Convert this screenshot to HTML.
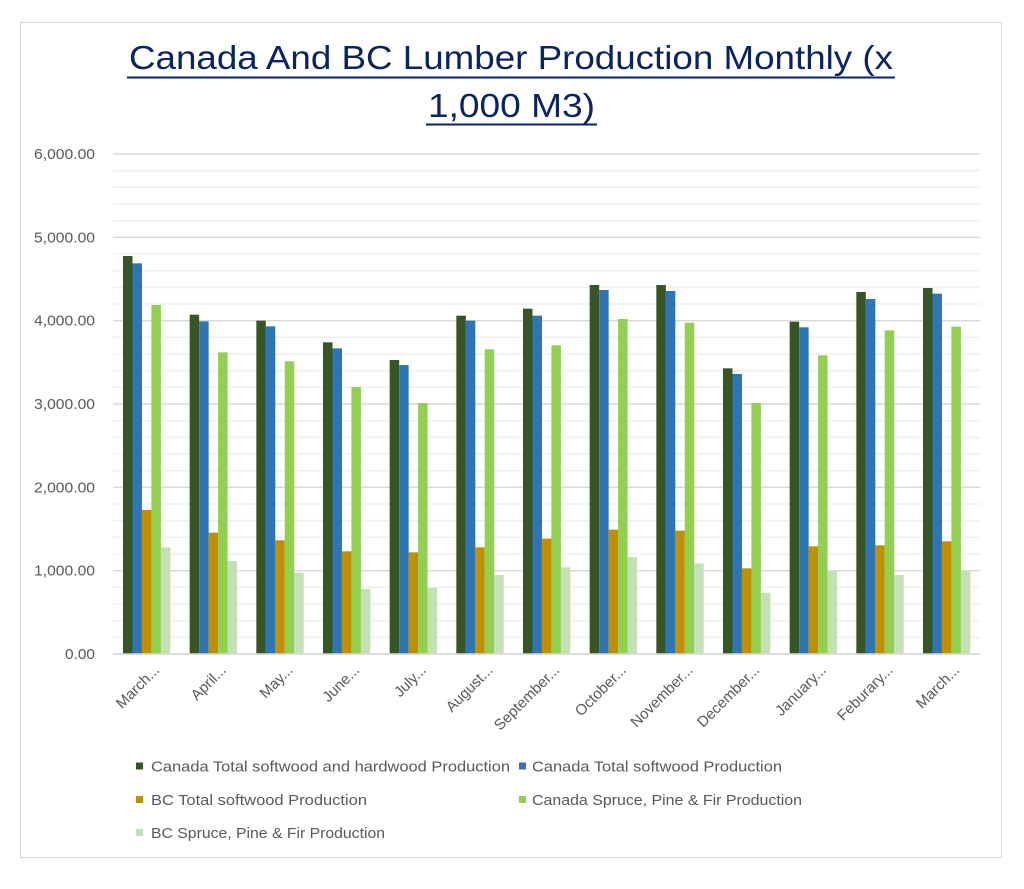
<!DOCTYPE html>
<html>
<head>
<meta charset="utf-8">
<style>
html,body{margin:0;padding:0;background:#fff;}
svg{display:block;}
text{font-family:"Liberation Sans",Arial,sans-serif;}
</style>
</head>
<body>
<svg width="1024" height="889" viewBox="0 0 1024 889" xmlns="http://www.w3.org/2000/svg">
<rect x="0" y="0" width="1024" height="889" fill="#fff"/>
<rect x="20.5" y="22.5" width="981" height="835" fill="#fff" stroke="#d9d9d9" stroke-width="1"/>

<!-- Title -->
<text x="129" y="69" font-size="33.5" fill="#0a2463" textLength="764" lengthAdjust="spacingAndGlyphs">Canada And BC Lumber Production Monthly (x</text>
<rect x="127" y="76.5" width="768" height="2" fill="#0a2463"/>
<text x="428" y="117" font-size="33.5" fill="#0a2463" textLength="167" lengthAdjust="spacingAndGlyphs">1,000 M3)</text>
<rect x="426" y="123.5" width="171" height="2" fill="#0a2463"/>

<!-- Minor gridlines -->
<g stroke="#f0f0f0" stroke-width="1.6">
<line x1="113" x2="980" y1="637.33" y2="637.33"/>
<line x1="113" x2="980" y1="620.67" y2="620.67"/>
<line x1="113" x2="980" y1="604" y2="604"/>
<line x1="113" x2="980" y1="587.33" y2="587.33"/>
<line x1="113" x2="980" y1="554" y2="554"/>
<line x1="113" x2="980" y1="537.33" y2="537.33"/>
<line x1="113" x2="980" y1="520.67" y2="520.67"/>
<line x1="113" x2="980" y1="504" y2="504"/>
<line x1="113" x2="980" y1="470.67" y2="470.67"/>
<line x1="113" x2="980" y1="454" y2="454"/>
<line x1="113" x2="980" y1="437.33" y2="437.33"/>
<line x1="113" x2="980" y1="420.67" y2="420.67"/>
<line x1="113" x2="980" y1="387.33" y2="387.33"/>
<line x1="113" x2="980" y1="370.67" y2="370.67"/>
<line x1="113" x2="980" y1="354" y2="354"/>
<line x1="113" x2="980" y1="337.33" y2="337.33"/>
<line x1="113" x2="980" y1="304" y2="304"/>
<line x1="113" x2="980" y1="287.33" y2="287.33"/>
<line x1="113" x2="980" y1="270.67" y2="270.67"/>
<line x1="113" x2="980" y1="254" y2="254"/>
<line x1="113" x2="980" y1="220.67" y2="220.67"/>
<line x1="113" x2="980" y1="204" y2="204"/>
<line x1="113" x2="980" y1="187.33" y2="187.33"/>
<line x1="113" x2="980" y1="170.67" y2="170.67"/>
</g>
<!-- Major gridlines -->
<g stroke="#d9d9d9" stroke-width="1.4">
<line x1="113" x2="980" y1="154" y2="154"/>
<line x1="113" x2="980" y1="237.33" y2="237.33"/>
<line x1="113" x2="980" y1="320.67" y2="320.67"/>
<line x1="113" x2="980" y1="404" y2="404"/>
<line x1="113" x2="980" y1="487.33" y2="487.33"/>
<line x1="113" x2="980" y1="570.67" y2="570.67"/>
<line x1="113" x2="980" y1="654" y2="654"/>
</g>

<!-- Y labels -->
<g font-size="15" fill="#595959" text-anchor="end">
<text x="95" y="159" textLength="61" lengthAdjust="spacingAndGlyphs">6,000.00</text>
<text x="95" y="242.33" textLength="61" lengthAdjust="spacingAndGlyphs">5,000.00</text>
<text x="95" y="325.67" textLength="61" lengthAdjust="spacingAndGlyphs">4,000.00</text>
<text x="95" y="409" textLength="61" lengthAdjust="spacingAndGlyphs">3,000.00</text>
<text x="95" y="492.33" textLength="61" lengthAdjust="spacingAndGlyphs">2,000.00</text>
<text x="95" y="575.67" textLength="61" lengthAdjust="spacingAndGlyphs">1,000.00</text>
<text x="95" y="659" textLength="30" lengthAdjust="spacingAndGlyphs">0.00</text>
</g>

<!-- Bars: dark green -->
<g fill="#375623">
<rect x="123" y="256" width="9.5" height="398"/>
<rect x="189.67" y="314.67" width="9.5" height="339.33"/>
<rect x="256.33" y="320.67" width="9.5" height="333.33"/>
<rect x="323" y="342.33" width="9.5" height="311.67"/>
<rect x="389.67" y="360" width="9.5" height="294"/>
<rect x="456.33" y="315.67" width="9.5" height="338.33"/>
<rect x="523" y="308.67" width="9.5" height="345.33"/>
<rect x="589.67" y="285" width="9.5" height="369"/>
<rect x="656.33" y="285" width="9.5" height="369"/>
<rect x="723" y="368.33" width="9.5" height="285.67"/>
<rect x="789.67" y="321.67" width="9.5" height="332.33"/>
<rect x="856.33" y="292" width="9.5" height="362"/>
<rect x="923" y="288" width="9.5" height="366"/>
</g>
<!-- Blue -->
<g fill="#2e75b6">
<rect x="132.47" y="263.33" width="9.5" height="390.67"/>
<rect x="199.14" y="321.33" width="9.5" height="332.67"/>
<rect x="265.8" y="326.33" width="9.5" height="327.67"/>
<rect x="332.47" y="348.33" width="9.5" height="305.67"/>
<rect x="399.14" y="365" width="9.5" height="289"/>
<rect x="465.8" y="320.67" width="9.5" height="333.33"/>
<rect x="532.47" y="315.67" width="9.5" height="338.33"/>
<rect x="599.14" y="290" width="9.5" height="364"/>
<rect x="665.8" y="291" width="9.5" height="363"/>
<rect x="732.47" y="374" width="9.5" height="280"/>
<rect x="799.14" y="327.33" width="9.5" height="326.67"/>
<rect x="865.8" y="299" width="9.5" height="355"/>
<rect x="932.47" y="293.67" width="9.5" height="360.33"/>
</g>
<!-- Gold -->
<g fill="#bf8f00">
<rect x="141.94" y="510" width="9.5" height="144"/>
<rect x="208.61" y="532.67" width="9.5" height="121.33"/>
<rect x="275.27" y="540.33" width="9.5" height="113.67"/>
<rect x="341.94" y="551.33" width="9.5" height="102.67"/>
<rect x="408.61" y="552.33" width="9.5" height="101.67"/>
<rect x="475.27" y="547.33" width="9.5" height="106.67"/>
<rect x="541.94" y="538.67" width="9.5" height="115.33"/>
<rect x="608.61" y="529.67" width="9.5" height="124.33"/>
<rect x="675.27" y="530.67" width="9.5" height="123.33"/>
<rect x="741.94" y="568.33" width="9.5" height="85.67"/>
<rect x="808.61" y="546.33" width="9.5" height="107.67"/>
<rect x="875.27" y="545.33" width="9.5" height="108.67"/>
<rect x="941.94" y="541.33" width="9.5" height="112.67"/>
</g>
<!-- Light green -->
<g fill="#92d050">
<rect x="151.41" y="305" width="9.5" height="349"/>
<rect x="218.08" y="352.33" width="9.5" height="301.67"/>
<rect x="284.74" y="361.33" width="9.5" height="292.67"/>
<rect x="351.41" y="387" width="9.5" height="267"/>
<rect x="418.08" y="403" width="9.5" height="251"/>
<rect x="484.74" y="349.33" width="9.5" height="304.67"/>
<rect x="551.41" y="345.33" width="9.5" height="308.67"/>
<rect x="618.08" y="319" width="9.5" height="335"/>
<rect x="684.74" y="322.67" width="9.5" height="331.33"/>
<rect x="751.41" y="403" width="9.5" height="251"/>
<rect x="818.08" y="355.33" width="9.5" height="298.67"/>
<rect x="884.74" y="330.33" width="9.5" height="323.67"/>
<rect x="951.41" y="326.67" width="9.5" height="327.33"/>
</g>
<!-- Pale green -->
<g fill="#c5e0b4">
<rect x="160.88" y="547.33" width="9.5" height="106.67"/>
<rect x="227.55" y="561" width="9.5" height="93"/>
<rect x="294.21" y="572.67" width="9.5" height="81.33"/>
<rect x="360.88" y="589" width="9.5" height="65"/>
<rect x="427.55" y="587.67" width="9.5" height="66.33"/>
<rect x="494.21" y="575" width="9.5" height="79"/>
<rect x="560.88" y="567.33" width="9.5" height="86.67"/>
<rect x="627.55" y="557" width="9.5" height="97"/>
<rect x="694.21" y="563.33" width="9.5" height="90.67"/>
<rect x="760.88" y="592.67" width="9.5" height="61.33"/>
<rect x="827.55" y="571.33" width="9.5" height="82.67"/>
<rect x="894.21" y="575" width="9.5" height="79"/>
<rect x="960.88" y="571.33" width="9.5" height="82.67"/>
</g>
<line x1="113" x2="980" y1="654" y2="654" stroke="#d9d9d9" stroke-width="1.4"/>

<!-- X labels -->
<g font-size="15" fill="#595959" text-anchor="end">
<text transform="translate(160.3,671) rotate(-45)">March...</text>
<text transform="translate(227,671) rotate(-45)">April...</text>
<text transform="translate(293.7,671) rotate(-45)">May...</text>
<text transform="translate(360.3,671) rotate(-45)">June...</text>
<text transform="translate(427,671) rotate(-45)">July...</text>
<text transform="translate(493.7,671) rotate(-45)">August...</text>
<text transform="translate(560.3,671) rotate(-45)">September...</text>
<text transform="translate(627,671) rotate(-45)">October...</text>
<text transform="translate(693.7,671) rotate(-45)">November...</text>
<text transform="translate(760.3,671) rotate(-45)">December...</text>
<text transform="translate(827,671) rotate(-45)">January...</text>
<text transform="translate(893.7,671) rotate(-45)">Feburary...</text>
<text transform="translate(960.3,671) rotate(-45)">March...</text>
</g>

<!-- Legend -->
<g font-size="15" fill="#595959">
<rect x="136" y="762.5" width="7" height="7" fill="#375623"/>
<text x="151" y="771.5" textLength="359" lengthAdjust="spacingAndGlyphs">Canada Total softwood and hardwood Production</text>
<rect x="519" y="762.5" width="7" height="7" fill="#2e75b6"/>
<text x="532" y="771.5" textLength="250" lengthAdjust="spacingAndGlyphs">Canada Total softwood Production</text>
<rect x="136" y="796" width="7" height="7" fill="#bf8f00"/>
<text x="151" y="805" textLength="216" lengthAdjust="spacingAndGlyphs">BC Total softwood Production</text>
<rect x="519" y="796" width="7" height="7" fill="#92d050"/>
<text x="532" y="805" textLength="270" lengthAdjust="spacingAndGlyphs">Canada Spruce, Pine &amp; Fir Production</text>
<rect x="136" y="829" width="7" height="7" fill="#c5e0b4"/>
<text x="151" y="838" textLength="234" lengthAdjust="spacingAndGlyphs">BC Spruce, Pine &amp; Fir Production</text>
</g>
</svg>
</body>
</html>
